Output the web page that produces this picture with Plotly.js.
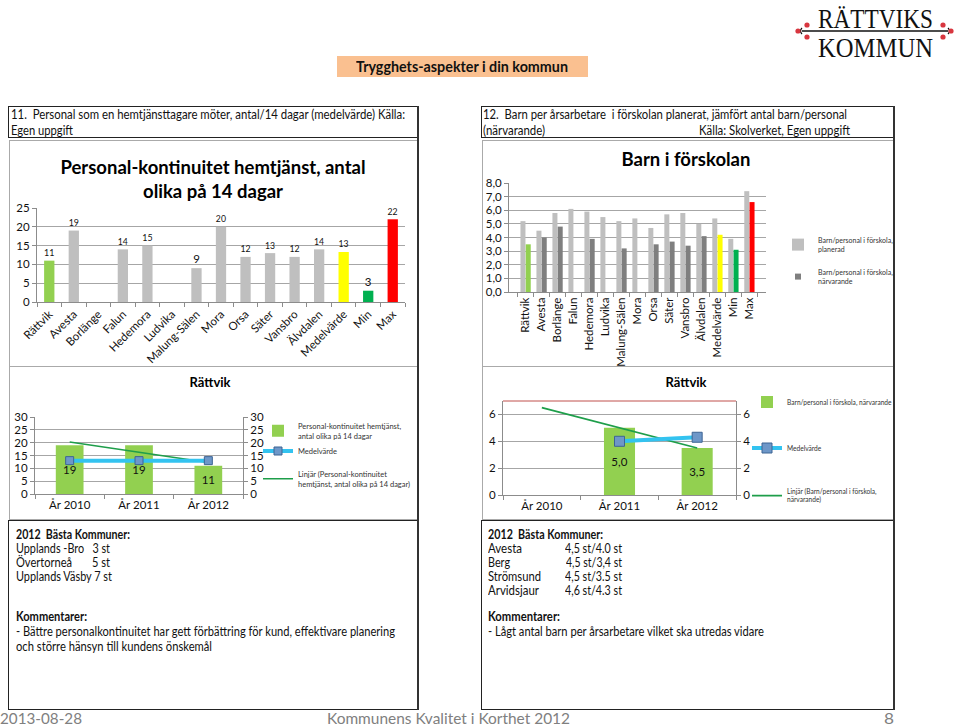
<!DOCTYPE html>
<html><head><meta charset="utf-8">
<script src="https://cdn.plot.ly/plotly-3.0.1.min.js"></script>
<style>
body{margin:0;width:960px;height:727px;position:relative;background:#fff;font-family:Lato,"Liberation Sans",sans-serif;overflow:hidden;color:#111}
.box{position:absolute;box-sizing:border-box}
.t{position:absolute;white-space:pre;transform-origin:0 50%;line-height:1}
.plot{position:absolute}
</style></head>
<body>
<!-- logo -->
<svg class="box" style="left:780px;top:0;width:180px;height:64px" width="180" height="64">
  <text x="38" y="28" font-family="'Liberation Serif','DejaVu Serif',serif" font-size="27" textLength="115" lengthAdjust="spacingAndGlyphs" fill="#111">RÄTTVIKS</text>
  <text x="38" y="57" font-family="'Liberation Serif','DejaVu Serif',serif" font-size="27" textLength="115" lengthAdjust="spacingAndGlyphs" fill="#111">KOMMUN</text>
  <line x1="22" y1="31" x2="168" y2="31" stroke="#111" stroke-width="1.6"/>
  <path d="M22 28 q-3 3 0 6 M168 28 q3 3 0 6" stroke="#111" fill="none" stroke-width="1.2"/>
  <circle cx="18" cy="31" r="2.6" fill="#D8363F"/><circle cx="27" cy="25" r="2.6" fill="#D8363F"/><circle cx="27" cy="37" r="2.6" fill="#D8363F"/>
  <circle cx="163" cy="25" r="2.6" fill="#D8363F"/><circle cx="163" cy="37" r="2.6" fill="#D8363F"/><circle cx="171" cy="31" r="2.6" fill="#D8363F"/>
</svg>
<div class="box" style="left:337px;top:56px;width:251px;height:21px;background:#FAC090"></div>

<!-- left panel -->
<div class="box" style="left:8px;top:106px;width:411px;height:32px;border:1.5px solid #222"></div>
<div class="box" style="left:9px;top:140px;width:409px;height:227px;border:1.5px solid #aaa"></div>
<div class="box" style="left:9px;top:366px;width:409px;height:154px;border:1.5px solid #aaa"></div>
<div class="box" style="left:8px;top:520px;width:411px;height:190px;border:1.5px solid #222"></div>
<div class="box" style="left:417px;top:106px;width:2px;height:604px;background:#333"></div>
<!-- right panel -->
<div class="box" style="left:481px;top:106px;width:414px;height:32px;border:1.5px solid #222"></div>
<div class="box" style="left:482px;top:140px;width:412px;height:227px;border:1.5px solid #aaa"></div>
<div class="box" style="left:482px;top:366px;width:412px;height:154px;border:1.5px solid #aaa"></div>
<div class="box" style="left:481px;top:520px;width:414px;height:190px;border:1.5px solid #222"></div>
<div class="box" style="left:893px;top:106px;width:2px;height:604px;background:#333"></div>

<div id="c1" class="plot" style="left:10px;top:142px"></div>
<div id="c2" class="plot" style="left:483px;top:142px"></div>
<div id="c3" class="plot" style="left:10px;top:368px"></div>
<div id="c4" class="plot" style="left:483px;top:368px"></div>

<div id="texts"></div>

<script>
// ---------- data ----------
const kommuner = ['Rättvik','Avesta','Borlänge','Falun','Hedemora','Ludvika','Malung-Sälen','Mora','Orsa','Säter','Vansbro','Älvdalen','Medelvärde','Min','Max'];
const personalKontinuitet = [11,19,null,14,15,null,9,20,12,13,12,14,13.3,3,22];
const barnPlanerad = [5.2,4.5,5.8,6.1,5.9,5.5,5.2,5.4,4.7,5.7,5.8,5.0,5.4,3.9,7.4];
const barnNarvarande = [3.5,4.0,4.8,null,3.9,null,3.2,null,3.5,3.7,3.4,4.1,4.2,3.1,6.6];
const years = ['År 2010','År 2011','År 2012'];
const rattvikPersonal = [19,19,11];
const medelPersonal = [13,13,13];
const trendPersonal = [20.3,16.3,12.3];
const rattvikBarn = [null,5.0,3.5];
const medelBarn = [null,4.0,4.3];
const trendBarn = [6.5,5.0,3.5];

// ---------- styles ----------
const FONT = 'Lato, "Liberation Sans", sans-serif';
const GRID = '#A6A6A6';
const AX = '#8C8C8C';
const colorFor = (i, base) => i===0 ? '#92D050' : i===12 ? '#FFFF00' : i===13 ? '#00B050' : i===14 ? '#FF0000' : base;
const col1 = kommuner.map((_,i)=>colorFor(i,'#BFBFBF'));
const col2 = kommuner.map((_,i)=>colorFor(i,'#7F7F7F'));
const cfg = {staticPlot:true, displayModeBar:false};
const base = {paper_bgcolor:'rgba(0,0,0,0)', plot_bgcolor:'rgba(0,0,0,0)', font:{family:FONT,color:'#111',size:11}, separators:', '};
// legend placed by container pixel (left x, centre y) inside a div of size w x h
const leg = (x, yc, w, h, fs) => ({xref:'container', yref:'container', x:x/w, y:1-yc/h, xanchor:'left', yanchor:'middle', font:{size:fs,color:'#333'}, itemwidth:30, bgcolor:'rgba(0,0,0,0)', visible:true});

// chart 1
Plotly.newPlot('c1', [{
  type:'bar', x:kommuner, y:personalKontinuitet, marker:{color:col1},
  texttemplate:'%{y:.0f}', textposition:'outside', textfont:{size:11.5,color:'#111'}, cliponaxis:false
}], Object.assign({}, base, {
  width:406, height:224, margin:{l:27,r:11,t:66,b:64}, showlegend:false, bargap:0.58,
  title:{text:'<b>Personal-kontinuitet hemtjänst, antal<br>olika på 14 dagar</b>', font:{size:18.5,color:'#000',family:FONT}, x:0.5, xanchor:'center', yref:'container', y:1-32/224, yanchor:'middle'},
  xaxis:{tickangle:-45, tickfont:{size:11.5}, showline:true, linecolor:AX, ticks:'outside', tickson:'boundaries', ticklen:4, tickcolor:AX},
  yaxis:{range:[0,25], dtick:5, tickfont:{size:11.5}, gridcolor:GRID, showline:true, linecolor:AX, ticks:'outside', ticklen:4, tickcolor:AX, zeroline:false}
}), cfg);

// chart 2
Plotly.newPlot('c2', [
  {type:'bar', name:'Barn/personal i förskola,<br>planerad', x:kommuner, y:barnPlanerad, marker:{color:'#BFBFBF'}},
  {type:'bar', name:'Barn/personal i förskola,<br>närvarande', x:kommuner, y:barnNarvarande, marker:{color:col2}, showlegend:false},
  {type:'scatter', mode:'markers', name:'Barn/personal i förskola,<br>närvarande', x:kommuner, y:kommuner.map(()=>null),
   marker:{symbol:'square', size:6, color:'#7F7F7F'}, legend:'legend2', hoverinfo:'skip'}
], Object.assign({}, base, {
  width:410, height:224, margin:{l:26,r:127,t:41,b:74}, barmode:'group', bargap:0.34, bargroupgap:0.05, showlegend:true,
  title:{text:'<b>Barn i förskolan</b>', font:{size:18.5,color:'#000',family:FONT}, x:(686-483)/410, xanchor:'center', yref:'container', y:1-18/224, yanchor:'middle'},
  xaxis:{tickangle:-90, tickfont:{size:11.5}, showline:true, linecolor:AX, ticks:'outside', tickson:'boundaries', ticklen:4, tickcolor:AX},
  yaxis:{range:[0,8], dtick:1, tickformat:'.1f', tickfont:{size:11.5}, gridcolor:GRID, showline:true, linecolor:AX, ticks:'outside', ticklen:4, tickcolor:AX, zeroline:false},
  legend: leg(778-483, 245-142, 410, 224, 7),
  legend2: leg(778-483, 277-142, 410, 224, 7)
}), cfg);

// chart 3
Plotly.newPlot('c3', [
  {type:'bar', name:'Personal-kontinuitet hemtjänst,<br>antal olika på 14 dagar', x:years, y:rattvikPersonal, marker:{color:'#92D050'}, showlegend:true,
   texttemplate:'%{y}', textposition:'inside', insidetextanchor:'middle', textfont:{size:11.5,color:'#111'}},
  {type:'scatter', mode:'lines+markers', name:'Medelvärde', x:years, y:medelPersonal, yaxis:'y2', legend:'legend2',
   line:{color:'#33C3F0', width:4}, marker:{symbol:'square', size:8, color:'#6E97C8', line:{color:'#3D6494', width:1}}},
  {type:'scatter', mode:'lines', name:'Linjär (Personal-kontinuitet<br>hemtjänst, antal olika på 14 dagar)', x:years, y:trendPersonal, legend:'legend3',
   line:{color:'#1E9E4A', width:1.5}}
], Object.assign({}, base, {
  width:406, height:150, margin:{l:25,r:173,t:49,b:24}, bargap:0.6, showlegend:true,
  title:{text:'<b>Rättvik</b>', font:{size:13,color:'#000',family:FONT}, x:(210-10)/406, xanchor:'center', yref:'container', y:1-14/150, yanchor:'middle'},
  xaxis:{tickfont:{size:11.5}, showline:true, linecolor:AX, ticks:'outside', tickson:'boundaries', ticklen:4, tickcolor:AX},
  yaxis:{range:[0,30], dtick:5, tickfont:{size:11.5}, gridcolor:GRID, showline:true, linecolor:AX, ticks:'outside', ticklen:4, tickcolor:AX, zeroline:false},
  yaxis2:{range:[0,30], dtick:5, tickfont:{size:11.5}, overlaying:'y', side:'right', showgrid:false, showline:true, linecolor:AX, ticks:'outside', ticklen:4, tickcolor:AX, zeroline:false},
  legend: leg(258-10, 431-368, 406, 150, 7.5),
  legend2: leg(258-10, 451-368, 406, 150, 7.5),
  legend3: leg(258-10, 479-368, 406, 150, 7.5)
}), cfg);

// chart 4
Plotly.newPlot('c4', [
  {type:'bar', name:'Barn/personal i förskola, närvarande', x:years, y:rattvikBarn, marker:{color:'#92D050'}, showlegend:true,
   texttemplate:'%{y:.1f}', textposition:'inside', insidetextanchor:'middle', textfont:{size:11.5,color:'#111'}},
  {type:'scatter', mode:'lines+markers', name:'Medelvärde', x:years, y:medelBarn, yaxis:'y2', legend:'legend2',
   line:{color:'#33C3F0', width:4}, marker:{symbol:'square', size:10, color:'#6E97C8', line:{color:'#3D6494', width:1}}},
  {type:'scatter', mode:'lines', name:'Linjär (Barn/personal i förskola,<br>närvarande)', x:years, y:trendBarn, legend:'legend3',
   line:{color:'#1E9E4A', width:1.8}}
], Object.assign({}, base, {
  width:477, height:150, margin:{l:20,r:224,t:33,b:23}, bargap:0.6, showlegend:true,
  title:{text:'<b>Rättvik</b>', font:{size:13,color:'#000',family:FONT}, x:(686-483)/477, xanchor:'center', yref:'container', y:1-14/150, yanchor:'middle'},
  xaxis:{tickfont:{size:11.5}, showline:true, linecolor:AX, ticks:'outside', tickson:'boundaries', ticklen:4, tickcolor:AX},
  yaxis:{range:[0,7], dtick:2, tickfont:{size:11.5}, gridcolor:GRID, showline:true, linecolor:AX, ticks:'outside', ticklen:4, tickcolor:AX, zeroline:false},
  yaxis2:{range:[0,7], dtick:2, tickfont:{size:11.5}, overlaying:'y', side:'right', showgrid:false, showline:true, linecolor:AX, ticks:'outside', ticklen:4, tickcolor:AX, zeroline:false},
  shapes:[{type:'line', xref:'paper', yref:'paper', x0:0, x1:1, y0:1, y1:1, line:{color:'#C0504D', width:1}}],
  legend: leg(747-483, 402-368, 477, 150, 6.6),
  legend2: leg(747-483, 448-368, 477, 150, 6.6),
  legend3: leg(747-483, 496-368, 477, 150, 6.6)
}), cfg);

// ---------- page texts (text, left, centre-y, target width, size, bold, colour) ----------
const texts = [
  ['Trygghets-aspekter i din kommun', 356, 66, 212, 15, true, '#111'],
  ['11.  Personal som en hemtjänsttagare möter, antal/14 dagar (medelvärde) Källa:', 11, 115, 394, 12.5, false],
  ['Egen uppgift', 11, 131, 62, 12.5, false],
  ['12.  Barn per årsarbetare  i förskolan planerat, jämfört antal barn/personal', 483, 115, 364, 12.5, false],
  ['(närvarande)', 483, 131, 62, 12.5, false],
  ['Källa: Skolverket, Egen uppgift', 699, 131, 151, 12.5, false],
  ['2012  Bästa Kommuner:', 16, 535, 114, 12.5, true],
  ['Upplands -Bro   3 st', 16, 549, 94, 12.5, false],
  ['Övertorneå       5 st', 16, 563, 94, 12.5, false],
  ['Upplands Väsby 7 st', 16, 577, 96, 12.5, false],
  ['Kommentarer:', 16, 617, 71, 12.5, true],
  ['- Bättre personalkontinuitet har gett förbättring för kund, effektivare planering', 16, 632, 379, 12.5, false],
  ['och större hänsyn till kundens önskemål', 16, 647, 196, 12.5, false],
  ['2012  Bästa Kommuner:', 488, 535, 115, 12.5, true],
  ['Avesta', 488, 549, 34, 12.5, false], ['4,5 st/4.0 st', 565, 549, 57, 12.5, false],
  ['Berg', 488, 563, 22, 12.5, false], ['4,5 st/3,4 st', 566, 563, 56, 12.5, false],
  ['Strömsund', 488, 577, 53, 12.5, false], ['4,5 st/3.5 st', 565, 577, 57, 12.5, false],
  ['Arvidsjaur', 488, 591, 51, 12.5, false], ['4,6 st/4.3 st', 565, 591, 57, 12.5, false],
  ['Kommentarer:', 488, 617, 72, 12.5, true],
  ['- Lågt antal barn per årsarbetare vilket ska utredas vidare', 488, 632, 276, 12.5, false],
  ['2013-08-28', 0, 718, 82, 16, false, '#808080'],
  ['Kommunens Kvalitet i Korthet 2012', 327, 718, 243, 16, false, '#808080'],
  ['8', 884, 718, 10, 16, false, '#808080']
];
const holder = document.getElementById('texts');
texts.forEach(([s,x,y,w,fs,b,c])=>{
  const el = document.createElement('span');
  el.className='t'; el.textContent=s;
  el.style.left=x+'px'; el.style.fontSize=fs+'px'; el.style.fontWeight=b?'700':'400';
  el.style.color=c||'#111';
  holder.appendChild(el);
  const r = el.getBoundingClientRect();
  el.style.top=(y - r.height/2)+'px';
  el.style.transform='scaleX('+(w/r.width)+')';
});
</script>
</body></html>
